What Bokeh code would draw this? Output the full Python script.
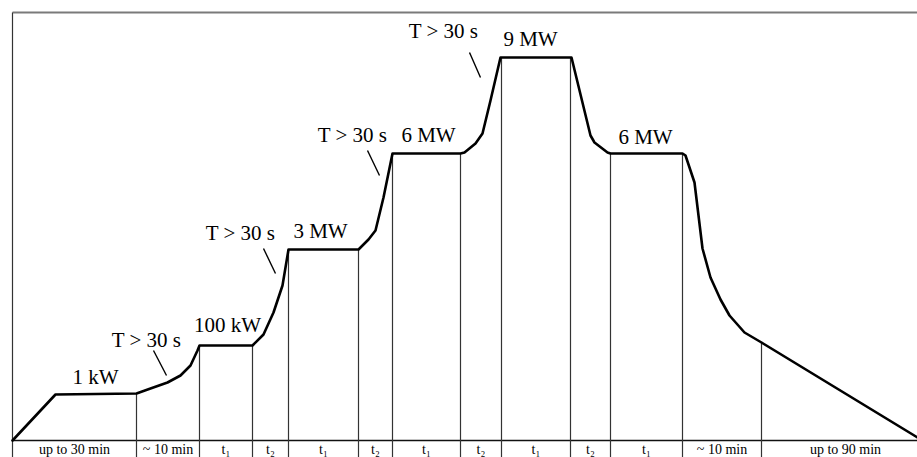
from bokeh.plotting import figure
from bokeh.models import Range1d
from bokeh.core.properties import value
from bokeh.embed import file_html
from bokeh.resources import INLINE

# ---- data (diagram units: x along time axis, y = power level height) ----
profile_x = [0, 43, 124, 138, 155, 168, 178, 185, 187, 240, 251, 261, 270, 276,
             346, 356, 363, 371, 380, 448, 452, 463, 470, 478, 488, 559, 578,
             582, 595, 598, 670, 673, 682, 690, 698, 708, 717, 732, 749, 905]
profile_y = [0, 46, 47, 52, 58, 65, 75, 90, 95, 95, 106, 128, 155, 191,
             191, 201, 210, 243, 287, 287, 288, 297, 307, 340, 383, 383, 305,
             298, 288, 287, 287, 285, 258, 192, 163, 141, 125, 108, 98, 3]

boundary_x = [0, 124, 187, 240, 276, 346, 380, 448, 489, 558, 598, 670, 749]
boundary_top = [428, 47, 95, 95, 191, 191, 287, 287, 383, 383, 287, 287, 98]
frame_right = 905
frame_top = 428

segment_labels = ["up to 30 min", "~ 10 min", "t\u2081", "t\u2082", "t\u2081", "t\u2082",
                  "t\u2081", "t\u2082", "t\u2081", "t\u2082", "t\u2081", "~ 10 min",
                  "up to 90 min"]

power_labels = ["1 kW", "100 kW", "3 MW", "6 MW", "9 MW", "6 MW"]
power_label_x = [83, 215, 308, 416, 518, 633]
power_label_y = [64, 116, 210, 306, 402, 304]

ramp_labels = ["T > 30 s", "T > 30 s", "T > 30 s", "T > 30 s"]
ramp_label_x = [134, 228, 340, 431]
ramp_label_y = [101, 208, 306, 410]
leader_x0 = [141, 251, 355, 457]
leader_y0 = [90, 192, 290, 388]
leader_x1 = [154, 263, 367, 468]
leader_y1 = [65, 167, 265, 363]

# ---- figure ----
p = figure(width=917, height=457,
           x_range=Range1d(-12, 905), y_range=Range1d(-17, 440),
           x_axis_type=None, y_axis_type=None,
           output_backend="svg", toolbar_location=None,
           min_border=0, outline_line_color=None,
           background_fill_color="white", border_fill_color="white")

serif = value("Liberation Serif")

# frame: top (gray), left border, baseline
p.segment(x0=[0], y0=[frame_top], x1=[frame_right + 20], y1=[frame_top],
          line_color="#7a7a7a", line_width=2)
p.segment(x0=[0], y0=[0], x1=[frame_right + 20], y1=[0],
          line_color="#111111", line_width=1.6)

# boundaries between phases (extend through label band)
bottoms = [-40] * len(boundary_x)
p.segment(x0=boundary_x, y0=bottoms, x1=boundary_x, y1=boundary_top,
          line_color="#333333", line_width=1.2)

# power profile
p.line(profile_x, profile_y, line_color="black", line_width=2.6,
       line_join="round", line_cap="round")

# leader lines for ramp labels
p.segment(x0=leader_x0, y0=leader_y0, x1=leader_x1, y1=leader_y1,
          line_color="black", line_width=1.4)

# labels
p.text(x=power_label_x, y=power_label_y, text=power_labels,
       text_font=serif, text_font_size="21px", text_color="black",
       text_align="center", text_baseline="middle")
p.text(x=ramp_label_x, y=ramp_label_y, text=ramp_labels,
       text_font=serif, text_font_size="21px", text_color="black",
       text_align="center", text_baseline="middle")

edges = boundary_x + [frame_right + 12]
mid_x = [(edges[i] + edges[i + 1]) / 2 for i in range(len(segment_labels))]
p.text(x=mid_x, y=[-8.5] * len(mid_x), text=segment_labels,
       text_font=serif, text_font_size="14px", text_color="black",
       text_align="center", text_baseline="middle")

open("out.html", "w").write(file_html(p, INLINE))
